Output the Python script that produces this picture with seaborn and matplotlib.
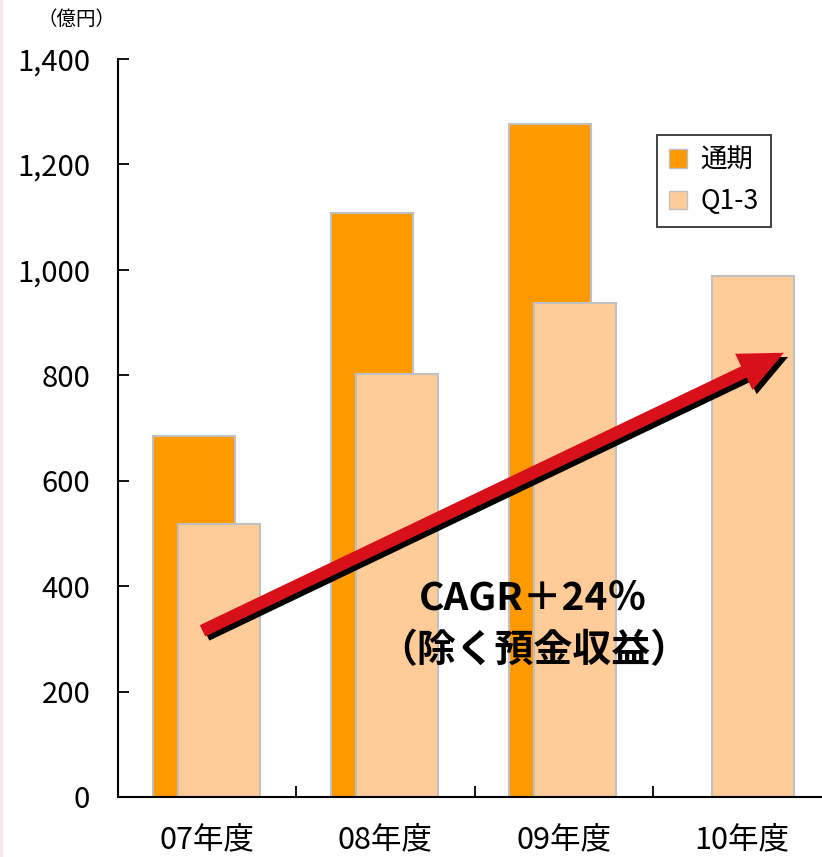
import numpy as np
import pandas as pd
import matplotlib.pyplot as plt
import matplotlib.patches as mpatches
import matplotlib.lines as mlines
import matplotlib.patheffects as pe
from matplotlib.ticker import FuncFormatter, FixedLocator
import seaborn as sns

# Data (億円)
years = ['07年度', '08年度', '09年度', '10年度']
full_year = [685, 1108, 1277, np.nan]   # 通期
q1_3 = [517, 802, 938, 988]             # Q1-3
cagr_text = 'CAGR＋24％\n（除く預金収益）'

sns.set_theme(style='white')
plt.rcParams['font.family'] = ['Noto Sans CJK JP', 'DejaVu Sans']

fig = plt.figure(figsize=(8.22, 8.57), dpi=100)
ax = fig.add_axes([118 / 822, 1 - 797 / 857, 713 / 822, 738 / 857])

pos = np.arange(len(years))
df_full = pd.DataFrame({'x': pos - 0.075, 'y': full_year}).dropna()
df_q = pd.DataFrame({'x': pos + 0.065, 'y': q1_3})

sns.barplot(data=df_full, x='x', y='y', native_scale=True, width=0.46,
            color='#FF9900', saturation=1, edgecolor='#C0C0C0', linewidth=1.5, ax=ax)
sns.barplot(data=df_q, x='x', y='y', native_scale=True, width=0.46,
            color='#FFCC99', saturation=1, edgecolor='#C0C0C0', linewidth=1.5, ax=ax)

ax.set_xlim(-0.5, 3.5)
ax.set_ylim(0, 1400)
ax.set_xlabel('')
ax.set_ylabel('')

# spines / ticks
for s in ['top', 'right']:
    ax.spines[s].set_visible(False)
for s in ['left', 'bottom']:
    ax.spines[s].set_color('black')
    ax.spines[s].set_linewidth(1.5)

ax.set_yticks(np.arange(0, 1401, 200))
ax.yaxis.set_major_formatter(FuncFormatter(lambda v, p: f'{int(v):,}'))
ax.tick_params(axis='y', direction='in', length=8, width=1.3, color='black',
               labelsize=21, pad=20, left=True)
ax.set_xticks(pos)
ax.set_xticklabels(years)
ax.tick_params(axis='x', length=0, labelsize=22, pad=20)
ax.xaxis.set_minor_locator(FixedLocator([0.5, 1.5, 2.5]))
ax.tick_params(axis='x', which='minor', direction='in', length=8, width=1.3,
               color='black', bottom=True)
for lab in ax.get_yticklabels() + ax.get_xticklabels():
    lab.set_color('black')

# unit label
fig.text(76 / 822, 1 - 19 / 857, '（億円）', ha='center', va='center', fontsize=14, color='black')

# growth arrow with shadow (drawn in display space so the shape is not distorted)
arrow = mpatches.FancyArrowPatch(
    (-0.04, 313), (3.25, 845),
    arrowstyle='simple,head_length=3.2,head_width=2.9,tail_width=0.9',
    mutation_scale=10, color='#D7101A', lw=0, zorder=5,
    path_effects=[pe.SimplePatchShadow(offset=(3, -3), shadow_rgbFace='black', alpha=1),
                  pe.Normal()])
ax.add_patch(arrow)

ax.text(1.83, 327, cagr_text, ha='center', va='center', fontsize=28,
        fontweight='bold', color='black', linespacing=1.45, zorder=6)

# legend
handles = [mpatches.Patch(facecolor='#FF9900', edgecolor='#C0C0C0', label='通期'),
           mpatches.Patch(facecolor='#FFCC99', edgecolor='#C0C0C0', label='Q1-3')]
leg = ax.legend(handles=handles, loc='upper left', bbox_to_anchor=(539 / 713, 1 - 76 / 738),
                frameon=True, fancybox=False, fontsize=19, handlelength=0.7,
                handleheight=0.7, handletextpad=0.5, borderpad=0.45, labelspacing=0.55,
                borderaxespad=0)
leg.get_frame().set_edgecolor('black')
leg.get_frame().set_linewidth(1.3)
for t in leg.get_texts():
    t.set_color('black')

# faint pink left border
fig.add_artist(mlines.Line2D([0.001, 0.001], [0, 1], color='#FBE3E8', lw=2,
                             transform=fig.transFigure))

fig.savefig('out.png', dpi=100, facecolor='white')
